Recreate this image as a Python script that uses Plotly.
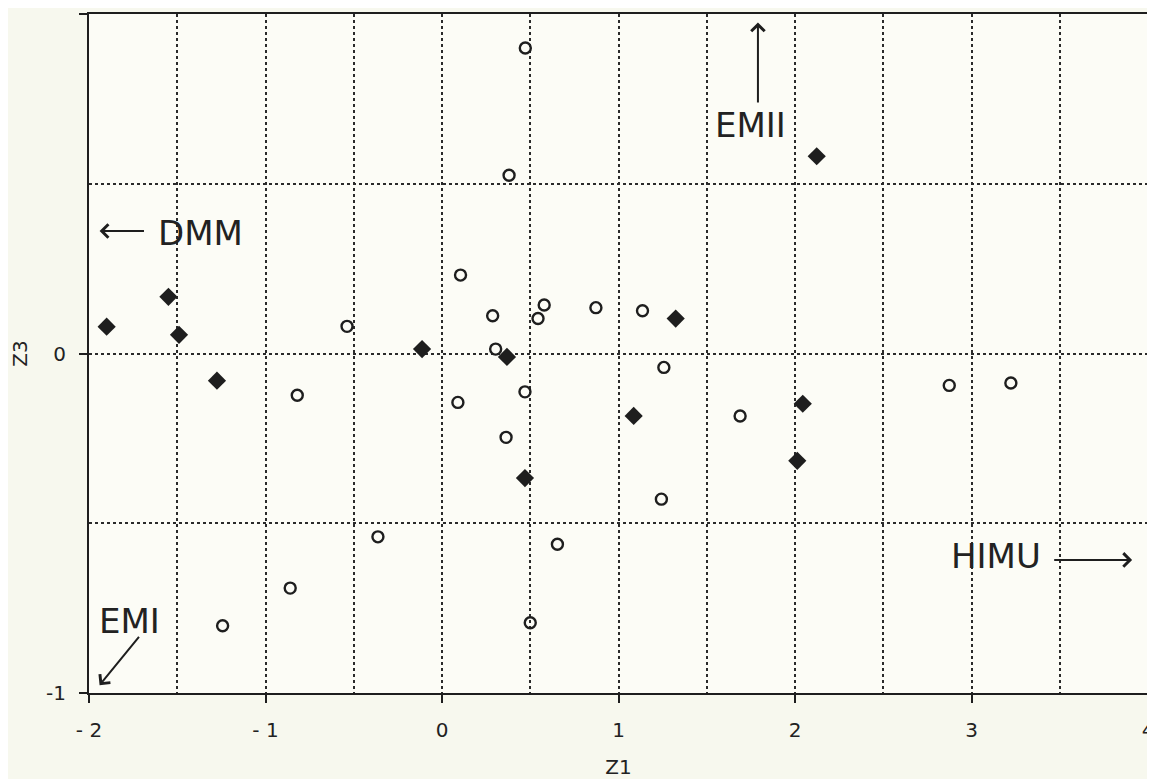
import plotly.graph_objects as go

# Filled diamonds
diam_x = [-1.90, -1.55, -1.49, -1.275, -0.113, 0.368, 0.47, 1.086, 1.324, 2.044, 2.013, 2.123]
diam_y = [0.079, 0.167, 0.055, -0.080, 0.013, -0.010, -0.367, -0.184, 0.103, -0.148, -0.316, 0.581]

# Open circles
circ_x = [0.472, 0.38, 0.105, -0.538, 0.287, 0.579, 0.544, 0.872, 1.136, 0.304, -0.82, 0.09,
          0.47, 1.257, 1.689, 2.874, 3.223, 0.363, 1.243, -0.363, 0.654, -0.86, -1.243, 0.50]
circ_y = [0.90, 0.525, 0.231, 0.080, 0.111, 0.143, 0.103, 0.135, 0.126, 0.013, -0.123, -0.144,
          -0.113, -0.041, -0.184, -0.094, -0.087, -0.247, -0.429, -0.540, -0.562, -0.691, -0.802, -0.793]

x_tickvals = [-2, -1, 0, 1, 2, 3, 4]
x_ticktext = ["- 2", "- 1", "0", "1", "2", "3", "4"]
y_tickvals = [-1, 0, 1]
y_ticktext = ["-1", "0", "1"]

FONT = "DejaVu Sans"
INK = "#1e1e1e"
GRID = "#2a2a2a"

fig = go.Figure()
fig.add_trace(go.Scatter(x=diam_x, y=diam_y, mode="markers",
                         marker=dict(symbol="diamond", size=14, color=INK),
                         showlegend=False))
fig.add_trace(go.Scatter(x=circ_x, y=circ_y, mode="markers",
                         marker=dict(symbol="circle-open", size=11, color=INK,
                                     line=dict(width=2.4, color=INK)),
                         showlegend=False))

grid = dict(showgrid=True, gridcolor=GRID, griddash="dot", gridwidth=1.7)
minor = dict(dtick=0.5, showgrid=True, gridcolor=GRID, griddash="dot", gridwidth=1.7, ticks="")

fig.update_xaxes(range=[-2, 4], tickvals=x_tickvals, ticktext=x_ticktext,
                 ticks="outside", ticklen=8, tickwidth=2, tickcolor=INK,
                 showline=True, linecolor=INK, linewidth=2.2, mirror=True,
                 zeroline=False, automargin=False, **grid, minor=minor,
                 tickfont=dict(family=FONT, size=20, color="#222"),
                 ticklabelstandoff=10,
                 title=dict(text="Z1", font=dict(family=FONT, size=20, color="#222"),
                            standoff=20))
fig.update_yaxes(range=[-1, 1], tickvals=y_tickvals, ticktext=y_ticktext,
                 ticks="outside", ticklen=8, tickwidth=2, tickcolor=INK,
                 showline=True, linecolor=INK, linewidth=2.2, mirror=True,
                 zeroline=False, automargin=False, **grid, minor=minor,
                 tickfont=dict(family=FONT, size=20, color="#222"),
                 ticklabelstandoff=9,
                 title=dict(text="Z3", font=dict(family=FONT, size=20, color="#222"),
                            standoff=25))

ann_font = dict(family=FONT, size=34, color="#222")
arrow_common = dict(showarrow=True, arrowhead=4, arrowsize=1.3, arrowwidth=2,
                    arrowcolor=INK, axref="x", ayref="y", text="")

annotations = [
    # labels
    dict(x=-1.37, y=0.355, text="DMM", showarrow=False, font=ann_font),
    dict(x=1.75, y=0.672, text="EMII", showarrow=False, font=ann_font),
    dict(x=3.14, y=-0.597, text="HIMU", showarrow=False, font=ann_font),
    dict(x=-1.77, y=-0.787, text="EMI", showarrow=False, font=ann_font),
    # arrows
    dict(x=-1.94, y=0.361, ax=-1.68, ay=0.361, **arrow_common),
    dict(x=1.79, y=0.975, ax=1.79, ay=0.735, **arrow_common),
    dict(x=3.91, y=-0.608, ax=3.46, ay=-0.608, **arrow_common),
    dict(x=-1.94, y=-0.977, ax=-1.71, ay=-0.83, **arrow_common),
]
fig.update_layout(annotations=annotations)

# page body has an 8px default margin, so the figure is offset by (8, 8)
fig.update_layout(width=1147, height=771,
                  margin=dict(l=81, r=7, t=6, b=86),
                  paper_bgcolor="#f7f8ee", plot_bgcolor="#fcfcf6",
                  showlegend=False)

fig.write_html("out.html")
